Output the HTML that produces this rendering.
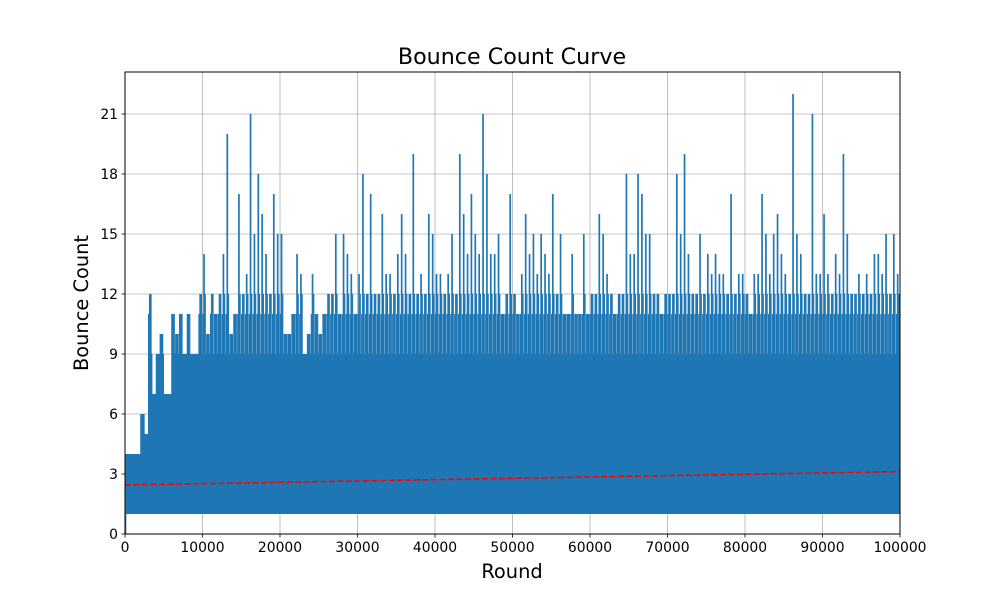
<!DOCTYPE html>
<html><head><meta charset="utf-8"><style>
html,body{margin:0;padding:0;background:#fff;}
svg{display:block;font-family:"DejaVu Sans","Liberation Sans",sans-serif;}
</style></head><body>
<svg id="chart" width="1000" height="600" viewBox="0 0 1000 600">
<rect width="1000" height="600" fill="#fff"/>
<text x="512" y="64" font-size="22.2" text-anchor="middle">Bounce Count Curve</text>
<g id="grid"></g>
<g id="series"></g>
<g id="trend"></g>
<rect x="125" y="72" width="775" height="462" fill="none" stroke="#000" stroke-width="1"/>
<g id="ticks"></g>
<text x="512" y="578" font-size="19.4" text-anchor="middle">Round</text>
<text x="88" y="303" font-size="19.4" text-anchor="middle" transform="rotate(-90 88 303)">Bounce Count</text>
</svg>
<script>
const xTicks=[0,10000,20000,30000,40000,50000,60000,70000,80000,90000,100000];
const yTicks=[0,3,6,9,12,15,18,21];
const binMax=[4,4,4,4,6,5,12,7,9,10,7,7,11,10,11,9,11,9,9,12,14,10,12,11,12,14,20,10,11,17,12,13,21,15,18,16,14,12,17,15,15,10,10,11,14,13,9,10,13,11,10,11,12,12,15,11,15,14,13,11,13,18,12,17,12,12,16,13,13,12,14,16,14,12,19,12,13,12,16,15,13,13,12,13,15,12,19,16,14,17,15,14,21,18,14,14,15,11,12,17,12,11,13,16,14,15,13,15,14,13,17,12,15,11,11,14,11,11,15,11,12,12,16,15,13,12,11,12,12,18,14,14,18,17,15,15,12,12,11,12,12,12,18,15,19,14,12,12,15,12,14,13,14,13,13,12,17,12,13,13,12,11,13,13,17,15,13,15,16,14,13,12,22,15,14,12,12,21,13,13,16,13,12,14,13,19,15,12,12,13,12,13,12,14,14,13,15,12,15,13];
const seriesMin=[1];
const trendStart=[2.45];
const trendEnd=[3.12];
const xMin=0,xMax=100000,yMin=0,yMax=23.1;
const L=125,R=900,T=72,B=534;
const sx=v=>L+(v-xMin)/(xMax-xMin)*(R-L);
const sy=v=>B-(v-yMin)/(yMax-yMin)*(B-T);
const NS="http://www.w3.org/2000/svg";
function mk(t,a,p){const e=document.createElementNS(NS,t);for(const k in a)e.setAttribute(k,a[k]);p.appendChild(e);return e;}
const grid=document.getElementById('grid'),ticks=document.getElementById('ticks'),series=document.getElementById('series'),trend=document.getElementById('trend');
xTicks.forEach(v=>{const x=sx(v);
const g=mk('line',{x1:x,x2:x,y1:T,y2:B,stroke:'#b0b0b0','stroke-width':0.8},grid);


const t=mk('line',{x1:x,x2:x,y1:B,y2:B+3.5,stroke:'#000','stroke-width':0.8},ticks);


const l=mk('text',{x:x,y:B+18,'font-size':13.9,'text-anchor':'middle'},ticks);l.textContent=v;

});
yTicks.forEach(v=>{const y=sy(v);
const g=mk('line',{x1:L,x2:R,y1:y,y2:y,stroke:'#b0b0b0','stroke-width':0.8},grid);


const t=mk('line',{x1:L-3.5,x2:L,y1:y,y2:y,stroke:'#000','stroke-width':0.8},ticks);


const l=mk('text',{x:L-7,y:y+5,'font-size':13.9,'text-anchor':'end'},ticks);l.textContent=v;

});
const bw=(xMax-xMin)/binMax.length;const lo=seriesMin[0];
const fracs=[0.1,0.4,0.7];
binMax.forEach((m,i)=>{const x0=sx(i*bw),x1=sx((i+1)*bw);
const base=Math.min(m,9);
const r=mk('rect',{x:x0,y:sy(base),width:x1-x0+0.3,height:sy(lo)-sy(base),fill:'#1f77b4'},series);


const hs=[Math.min(m,11),m,Math.min(m,12)];
fracs.forEach((f,k)=>{const xm=x0+(x1-x0)*f;
const p=mk('line',{x1:xm,x2:xm,y1:sy(lo),y2:sy(hs[k]),stroke:'#1f77b4','stroke-width':k===1?1.7:1.3},series);

});});
const first=mk('line',{x1:sx(0)+0.5,x2:sx(0)+0.5,y1:sy(0),y2:sy(binMax[0]),stroke:'#1f77b4','stroke-width':1.6},series);


const tl=mk('line',{x1:sx(xMin),x2:sx(xMax),y1:sy(trendStart[0]),y2:sy(trendEnd[0]),stroke:'#ff0000','stroke-width':1.6,'stroke-dasharray':'6,2.5'},trend);


</script>
</body></html>
